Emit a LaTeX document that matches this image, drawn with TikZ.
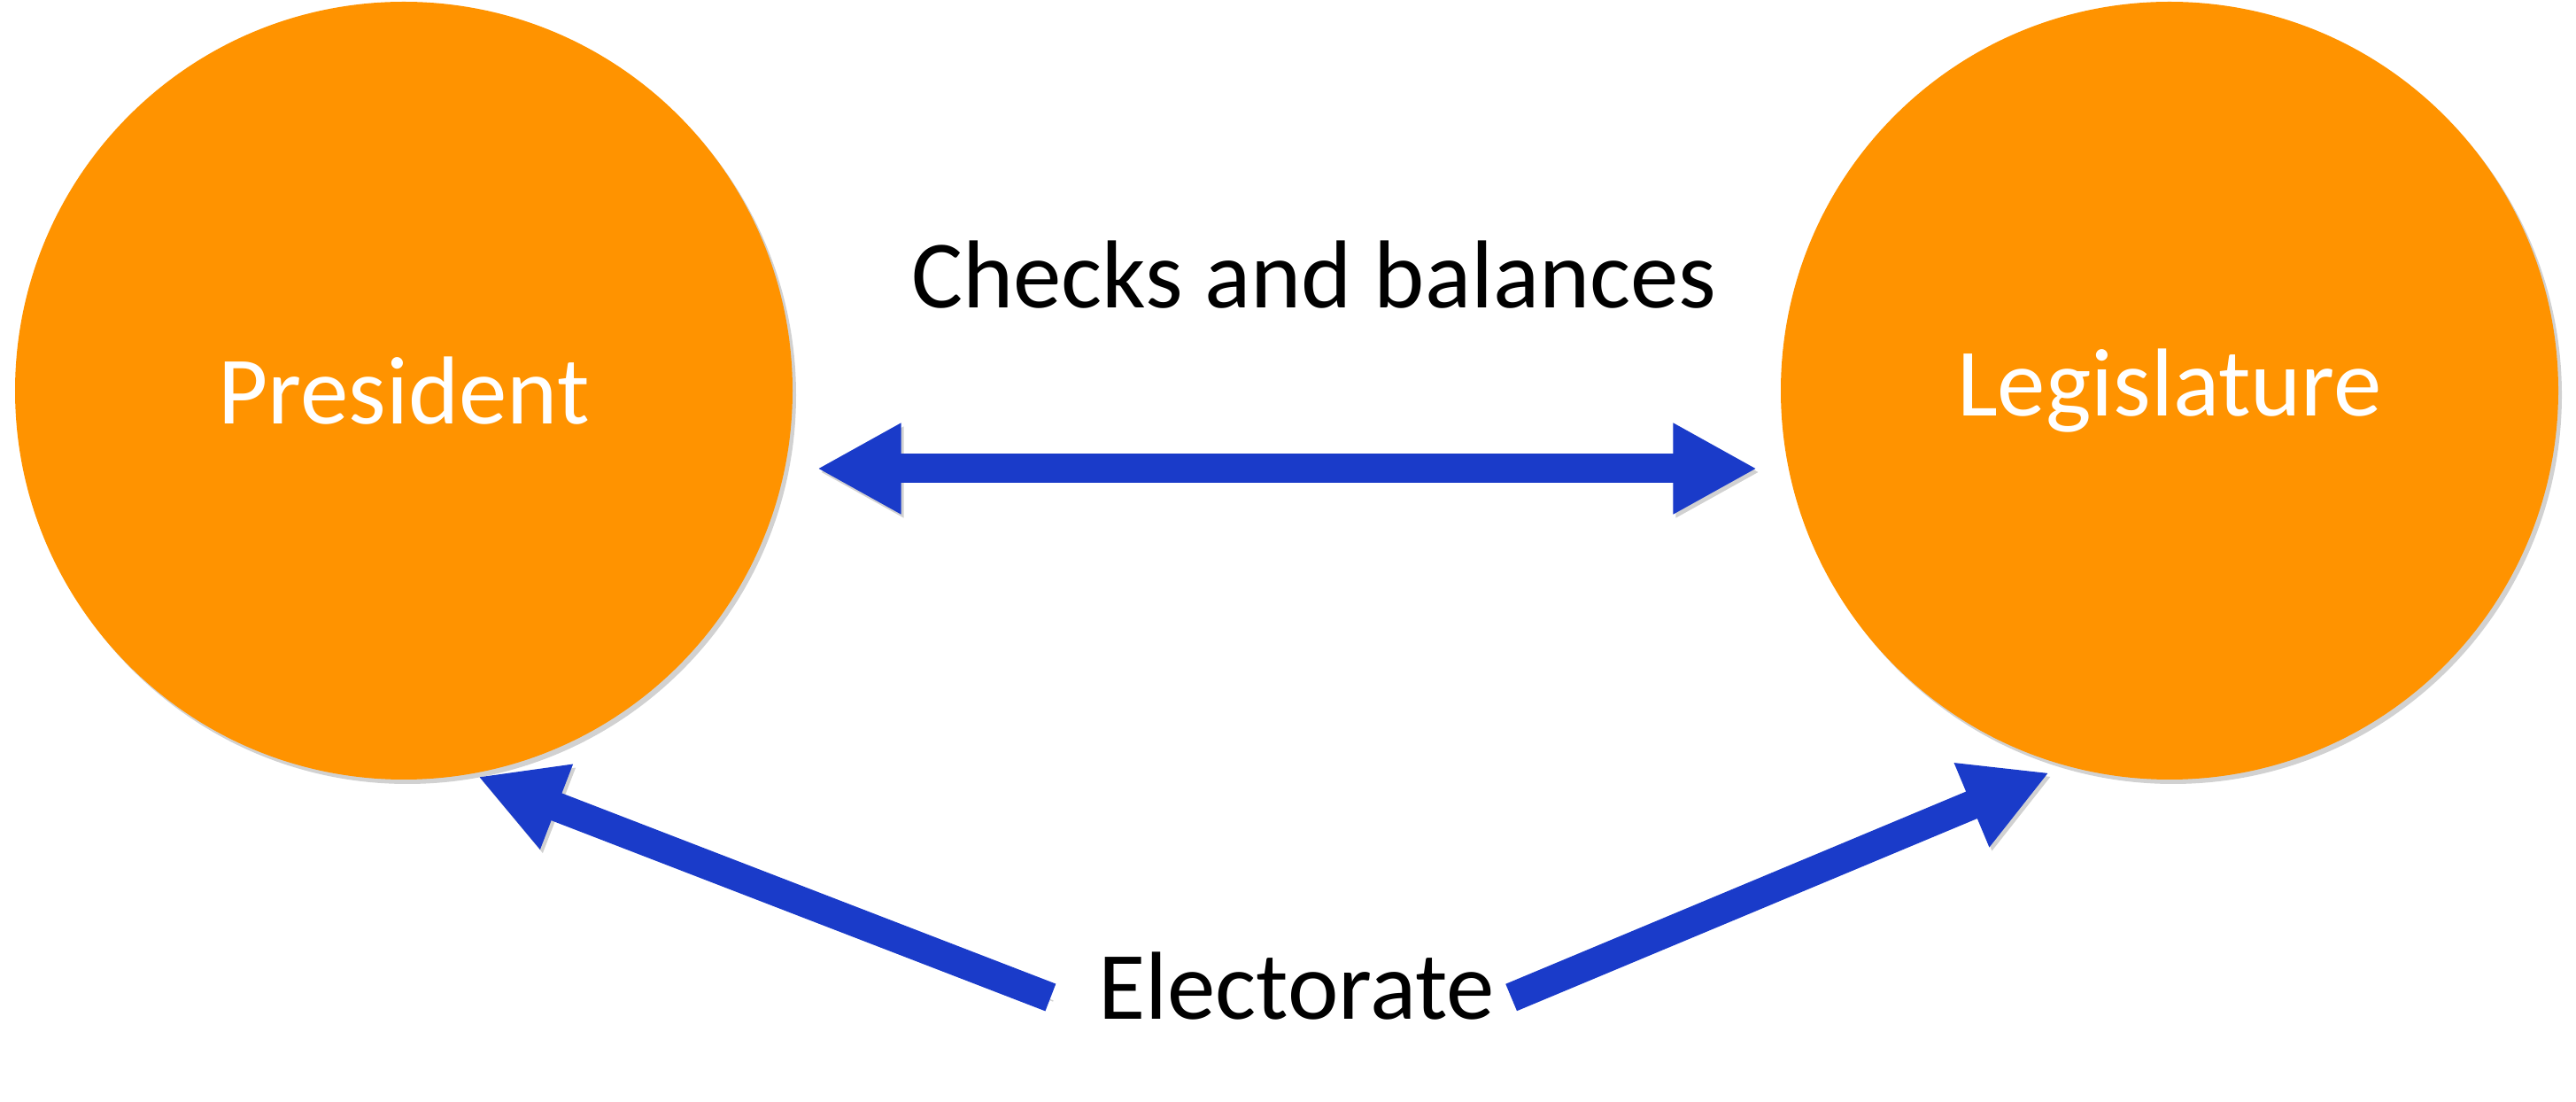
\documentclass[tikz,border=0pt]{standalone}
\usepackage{fontspec}
\setmainfont{Carlito}
\usepackage{xcolor}
\usepackage{tikz}
\usetikzlibrary{arrows.meta, positioning}

\definecolor{branchorange}{RGB}{255,147,0}
\definecolor{linkblue}{RGB}{26,59,201}

\begin{document}
\begin{tikzpicture}[
        base/.style={align=center, inner sep=0pt, font=\fontsize{31}{37}\selectfont},
        branch/.style={base, circle, minimum size=8.78cm, fill=branchorange, text=white,
            preaction={fill=black, opacity=0.18, transform canvas={shift={(0.04,-0.05)}}}},
        plaintext/.style={base, text=black},
        arrow/.style={-{Triangle[length=0.95cm, width=0.96cm]}, line width=0.33cm, draw=linkblue,
            preaction={draw=black, opacity=0.18, transform canvas={shift={(0.03,-0.04)}}}},
        dblarrow/.style={arrow, {Triangle[length=0.95cm, width=0.96cm]}-{Triangle[length=0.95cm, width=0.96cm]}}
    ]
    \useasboundingbox (0, 0) rectangle (29.09, 12.44);

    \node (president) at (4.56, 8.03) [branch] {President};
    \node (legislature) at (24.50, 8.03) [branch] {Legislature};

    \node (checks) at (14.84, 9.34) [plaintext] {Checks and balances};
    \node (electorate) at (14.64, 1.31) [plaintext] {Electorate};

    \draw [dblarrow] ([shift={(0.27,-0.88)}]president.east) -- ([shift={(-0.26,-0.88)}]legislature.west);
    \draw [arrow] ([shift={(-0.53,-0.13)}]electorate.west) -- ([yshift=-0.04cm]president.-79);
    \draw [arrow] ([shift={(0.18,-0.13)}]electorate.east) -- ([yshift=-0.13cm]legislature.-108);

\end{tikzpicture}
\end{document}
